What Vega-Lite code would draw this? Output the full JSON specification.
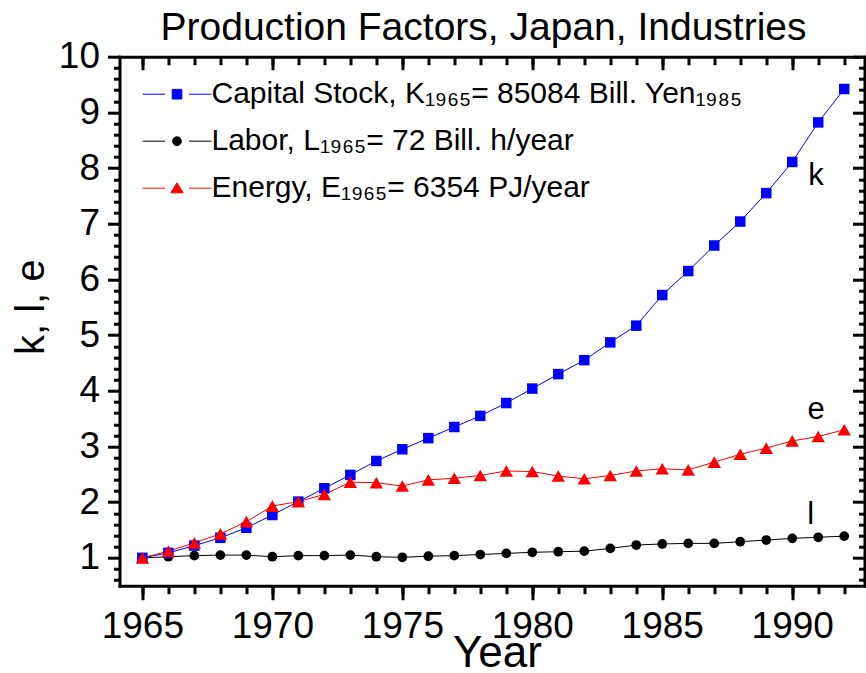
{
  "$schema": "https://vega.github.io/schema/vega-lite/v6.json",
  "width": 745,
  "height": 529,
  "autosize": "none",
  "padding": {"left": 119.5, "top": 56.7, "right": 1.5, "bottom": 87.3},
  "background": "white",
  "title": {
    "text": "Production Factors, Japan, Industries",
    "font": "Liberation Sans",
    "fontSize": 39,
    "fontWeight": "normal",
    "color": "black",
    "anchor": "middle",
    "frame": "group",
    "dx": -8.5,
    "offset": -10
  },
  "config": {
    "view": {"stroke": null},
    "axis": {
      "grid": false,
      "labelFont": "Liberation Sans",
      "labelColor": "black",
      "labelFontSize": 37,
      "titleFont": "Liberation Sans",
      "titleColor": "black",
      "titleFontWeight": "normal",
      "domainColor": "black",
      "tickColor": "black",
      "domainWidth": 3,
      "tickWidth": 3,
      "domainCap": "square"
    }
  },
  "data": {
    "values": [
      {"year": 1965, "series": "L", "value": 1.00},
      {"year": 1966, "series": "L", "value": 1.02},
      {"year": 1967, "series": "L", "value": 1.04},
      {"year": 1968, "series": "L", "value": 1.05},
      {"year": 1969, "series": "L", "value": 1.05},
      {"year": 1970, "series": "L", "value": 1.02},
      {"year": 1971, "series": "L", "value": 1.04},
      {"year": 1972, "series": "L", "value": 1.04},
      {"year": 1973, "series": "L", "value": 1.05},
      {"year": 1974, "series": "L", "value": 1.02},
      {"year": 1975, "series": "L", "value": 1.01},
      {"year": 1976, "series": "L", "value": 1.03},
      {"year": 1977, "series": "L", "value": 1.04},
      {"year": 1978, "series": "L", "value": 1.06},
      {"year": 1979, "series": "L", "value": 1.08},
      {"year": 1980, "series": "L", "value": 1.10},
      {"year": 1981, "series": "L", "value": 1.11},
      {"year": 1982, "series": "L", "value": 1.12},
      {"year": 1983, "series": "L", "value": 1.17},
      {"year": 1984, "series": "L", "value": 1.23},
      {"year": 1985, "series": "L", "value": 1.25},
      {"year": 1986, "series": "L", "value": 1.26},
      {"year": 1987, "series": "L", "value": 1.26},
      {"year": 1988, "series": "L", "value": 1.29},
      {"year": 1989, "series": "L", "value": 1.32},
      {"year": 1990, "series": "L", "value": 1.35},
      {"year": 1991, "series": "L", "value": 1.37},
      {"year": 1992, "series": "L", "value": 1.39},
      {"year": 1965, "series": "K", "value": 1.00},
      {"year": 1966, "series": "K", "value": 1.09},
      {"year": 1967, "series": "K", "value": 1.22},
      {"year": 1968, "series": "K", "value": 1.36},
      {"year": 1969, "series": "K", "value": 1.54},
      {"year": 1970, "series": "K", "value": 1.77},
      {"year": 1971, "series": "K", "value": 2.01},
      {"year": 1972, "series": "K", "value": 2.25},
      {"year": 1973, "series": "K", "value": 2.49},
      {"year": 1974, "series": "K", "value": 2.74},
      {"year": 1975, "series": "K", "value": 2.95},
      {"year": 1976, "series": "K", "value": 3.15},
      {"year": 1977, "series": "K", "value": 3.35},
      {"year": 1978, "series": "K", "value": 3.55},
      {"year": 1979, "series": "K", "value": 3.78},
      {"year": 1980, "series": "K", "value": 4.04},
      {"year": 1981, "series": "K", "value": 4.30},
      {"year": 1982, "series": "K", "value": 4.55},
      {"year": 1983, "series": "K", "value": 4.87},
      {"year": 1984, "series": "K", "value": 5.17},
      {"year": 1985, "series": "K", "value": 5.72},
      {"year": 1986, "series": "K", "value": 6.15},
      {"year": 1987, "series": "K", "value": 6.61},
      {"year": 1988, "series": "K", "value": 7.04},
      {"year": 1989, "series": "K", "value": 7.55},
      {"year": 1990, "series": "K", "value": 8.11},
      {"year": 1991, "series": "K", "value": 8.82},
      {"year": 1992, "series": "K", "value": 9.42},
      {"year": 1965, "series": "E", "value": 1.00},
      {"year": 1966, "series": "E", "value": 1.12},
      {"year": 1967, "series": "E", "value": 1.27},
      {"year": 1968, "series": "E", "value": 1.43},
      {"year": 1969, "series": "E", "value": 1.65},
      {"year": 1970, "series": "E", "value": 1.93},
      {"year": 1971, "series": "E", "value": 2.01},
      {"year": 1972, "series": "E", "value": 2.14},
      {"year": 1973, "series": "E", "value": 2.36},
      {"year": 1974, "series": "E", "value": 2.35},
      {"year": 1975, "series": "E", "value": 2.29},
      {"year": 1976, "series": "E", "value": 2.40},
      {"year": 1977, "series": "E", "value": 2.43},
      {"year": 1978, "series": "E", "value": 2.48},
      {"year": 1979, "series": "E", "value": 2.56},
      {"year": 1980, "series": "E", "value": 2.55},
      {"year": 1981, "series": "E", "value": 2.47},
      {"year": 1982, "series": "E", "value": 2.42},
      {"year": 1983, "series": "E", "value": 2.48},
      {"year": 1984, "series": "E", "value": 2.56},
      {"year": 1985, "series": "E", "value": 2.60},
      {"year": 1986, "series": "E", "value": 2.58},
      {"year": 1987, "series": "E", "value": 2.72},
      {"year": 1988, "series": "E", "value": 2.86},
      {"year": 1989, "series": "E", "value": 2.97},
      {"year": 1990, "series": "E", "value": 3.10},
      {"year": 1991, "series": "E", "value": 3.18},
      {"year": 1992, "series": "E", "value": 3.30}
    ]
  },
  "resolve": {"axis": {"x": "independent", "y": "independent"}},
  "layer": [
    {
      "transform": [{"filter": "datum.series === 'L'"}],
      "mark": {"type": "line", "strokeWidth": 1, "color": "#000000"},
      "encoding": {
        "x": {
          "field": "year", "type": "quantitative",
          "scale": {"domain": [1964.12, 1992.78], "nice": false, "zero": false},
          "axis": {
            "orient": "bottom", "values": [1965, 1970, 1975, 1980, 1985, 1990], "format": "d",
            "tickSize": 14, "labelPadding": 9, "title": "Year", "titleFontSize": 44,
            "titleX": 377.5, "titleY": 81, "titleBaseline": "alphabetic", "titleAlign": "center", "titleAnchor": null
          }
        },
        "y": {
          "field": "value", "type": "quantitative",
          "scale": {"domain": [0.5, 10], "nice": false, "zero": false},
          "axis": {
            "orient": "left", "values": [1, 2, 3, 4, 5, 6, 7, 8, 9, 10],
            "tickSize": 12, "labelPadding": 8, "title": "k, l, e", "titleFontSize": 40,
            "titleAngle": -90, "titleX": -76.5, "titleY": 250, "titleBaseline": "alphabetic", "titleAlign": "center", "titleAnchor": null
          }
        }
      }
    },
    {
      "transform": [{"filter": "datum.series === 'K'"}],
      "mark": {"type": "line", "strokeWidth": 1, "color": "#0000ff"},
      "encoding": {
        "x": {"field": "year", "type": "quantitative", "axis": null},
        "y": {"field": "value", "type": "quantitative", "axis": null}
      }
    },
    {
      "transform": [{"filter": "datum.series === 'E'"}],
      "mark": {"type": "line", "strokeWidth": 1, "color": "#ff0000"},
      "encoding": {
        "x": {"field": "year", "type": "quantitative", "axis": null},
        "y": {"field": "value", "type": "quantitative", "axis": null}
      }
    },
    {
      "transform": [{"filter": "datum.series === 'L'"}],
      "mark": {"type": "point", "filled": true, "opacity": 1, "shape": "circle", "size": 95, "color": "#000000"},
      "encoding": {
        "x": {
          "field": "year", "type": "quantitative",
          "axis": {
            "orient": "bottom",
            "values": [1965, 1966, 1967, 1968, 1969, 1970, 1971, 1972, 1973, 1974, 1975, 1976, 1977, 1978, 1979, 1980, 1981, 1982, 1983, 1984, 1985, 1986, 1987, 1988, 1989, 1990, 1991, 1992],
            "tickSize": 8, "labels": false, "domain": false, "title": null
          }
        },
        "y": {
          "field": "value", "type": "quantitative",
          "axis": {
            "orient": "left",
            "values": [0.6, 0.8, 1.2, 1.4, 1.6, 1.8, 2.2, 2.4, 2.6, 2.8, 3.2, 3.4, 3.6, 3.8, 4.2, 4.4, 4.6, 4.8, 5.2, 5.4, 5.6, 5.8, 6.2, 6.4, 6.6, 6.8, 7.2, 7.4, 7.6, 7.8, 8.2, 8.4, 8.6, 8.8, 9.2, 9.4, 9.6, 9.8],
            "tickSize": 6, "labels": false, "domain": false, "title": null
          }
        }
      }
    },
    {
      "transform": [{"filter": "datum.series === 'K'"}],
      "mark": {"type": "point", "filled": true, "opacity": 1, "shape": "square", "size": 110, "color": "#0000ff"},
      "encoding": {
        "x": {"field": "year", "type": "quantitative", "axis": null},
        "y": {"field": "value", "type": "quantitative", "axis": null}
      }
    },
    {
      "transform": [{"filter": "datum.series === 'E'"}],
      "mark": {"type": "point", "filled": true, "opacity": 1, "shape": "triangle-up", "size": 180, "color": "#ff0000"},
      "encoding": {
        "x": {"field": "year", "type": "quantitative", "axis": null},
        "y": {"field": "value", "type": "quantitative", "axis": null}
      }
    },
    {
      "mark": {"type": "point", "filled": true, "opacity": 0},
      "encoding": {
        "x": {
          "field": "year", "type": "quantitative",
          "axis": {"orient": "top", "values": [1965, 1970, 1975, 1980, 1985, 1990], "tickSize": -13, "labels": false, "title": null}
        },
        "y": {
          "field": "value", "type": "quantitative",
          "axis": {"orient": "right", "values": [1, 2, 3, 4, 5, 6, 7, 8, 9, 10], "tickSize": -12, "labels": false, "title": null}
        },
        "color": {
          "field": "series", "type": "nominal",
          "scale": {"domain": ["K", "L", "E"], "range": ["#0000ff", "#000000", "#ff0000"]},
          "legend": {
            "orient": "none", "legendX": 37, "legendY": 17, "title": null, "padding": 0,
            "symbolSize": 1600, "symbolStrokeWidth": 1, "symbolOpacity": 1, "rowPadding": 11,
            "labelFont": "Liberation Sans", "labelFontSize": 30, "labelColor": "black",
            "labelLimit": 800, "labelOffset": 14,
            "labelExpr": "datum.value === 'K' ? 'Capital Stock, K₁₉₆₅= 85084 Bill. Yen₁₉₈₅' : datum.value === 'L' ? 'Labor, L₁₉₆₅= 72 Bill. h/year' : 'Energy, E₁₉₆₅= 6354 PJ/year'",
            "encode": {
              "symbols": {
                "update": {
                  "shape": {"signal": "datum.value === 'K' ? 'M-1.72,0H-0.6M0.6,0H1.72M-0.24,-0.24H0.24V0.24H-0.24Z' : datum.value === 'L' ? 'M-1.72,0H-0.6M0.6,0H1.72M0.22,0A0.22,0.22,0,1,1,-0.22,0A0.22,0.22,0,1,1,0.22,0Z' : 'M-1.72,0H-0.6M0.6,0H1.72M0,-0.27L0.31,0.23H-0.31Z'"},
                  "stroke": {"signal": "scale('color', datum.value)"},
                  "strokeWidth": {"value": 1},
                  "opacity": {"value": 1}
                }
              }
            }
          }
        }
      }
    },
    {
      "mark": {"type": "point", "opacity": 0},
      "encoding": {
        "x": {
          "field": "year", "type": "quantitative",
          "axis": {
            "orient": "top",
            "values": [1965, 1966, 1967, 1968, 1969, 1970, 1971, 1972, 1973, 1974, 1975, 1976, 1977, 1978, 1979, 1980, 1981, 1982, 1983, 1984, 1985, 1986, 1987, 1988, 1989, 1990, 1991, 1992],
            "tickSize": -8, "labels": false, "domain": false, "title": null
          }
        },
        "y": {
          "field": "value", "type": "quantitative",
          "axis": {
            "orient": "right",
            "values": [0.6, 0.8, 1.2, 1.4, 1.6, 1.8, 2.2, 2.4, 2.6, 2.8, 3.2, 3.4, 3.6, 3.8, 4.2, 4.4, 4.6, 4.8, 5.2, 5.4, 5.6, 5.8, 6.2, 6.4, 6.6, 6.8, 7.2, 7.4, 7.6, 7.8, 8.2, 8.4, 8.6, 8.8, 9.2, 9.4, 9.6, 9.8],
            "tickSize": -6, "labels": false, "domain": false, "title": null
          }
        }
      }
    },
    {
      "data": {
        "values": [
          {"label": "k", "year": 1990.91, "value": 7.70},
          {"label": "e", "year": 1990.92, "value": 3.49},
          {"label": "l", "year": 1990.71, "value": 1.60}
        ]
      },
      "mark": {"type": "text", "font": "Liberation Sans", "fontSize": 31, "color": "black", "align": "center", "baseline": "alphabetic"},
      "encoding": {
        "x": {"field": "year", "type": "quantitative", "axis": null},
        "y": {"field": "value", "type": "quantitative", "axis": null},
        "text": {"field": "label"}
      }
    }
  ]
}
